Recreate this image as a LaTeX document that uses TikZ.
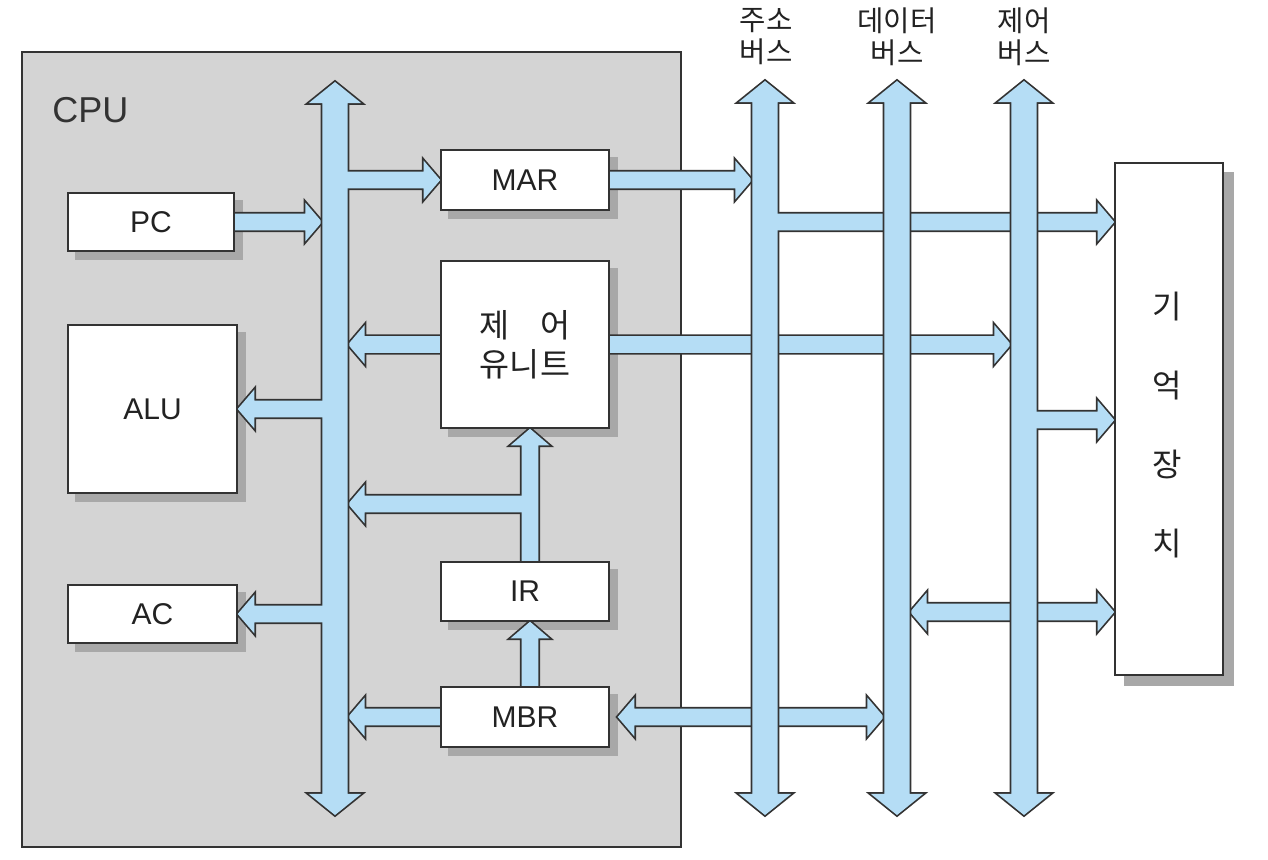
\documentclass[tikz,border=0pt]{standalone}
\usepackage{fontspec}
\setmainfont{Liberation Sans}
\newfontfamily\kr{Noto Sans CJK KR}
\usetikzlibrary{calc}
\pgfdeclarelayer{bg}\pgfdeclarelayer{shad}\pgfdeclarelayer{arr}
\pgfsetlayers{bg,shad,arr,main}
\definecolor{busblue}{HTML}{B5DDF5}
\definecolor{cpugray}{HTML}{D4D4D4}
\definecolor{shadgray}{HTML}{A8A8A8}
\definecolor{lc}{HTML}{333333}
\definecolor{tc}{HTML}{222222}
\def\as{6.3pt}\def\aH{14.6pt}\def\ah{12.5pt}
\def\bs{9.4pt}\def\bH{19.6pt}\def\bh{15.8pt}
\newcommand\RA[2]{\path[cur] let \p1=#1, \p2=#2 in (\x1,\y1+\as) -- (\x2-\ah,\y1+\as) -- (\x2-\ah,\y1+\aH) -- (\x2,\y1) -- (\x2-\ah,\y1-\aH) -- (\x2-\ah,\y1-\as) -- (\x1,\y1-\as) -- cycle;}
\newcommand\LA[2]{\path[cur] let \p1=#1, \p2=#2 in (\x1,\y1+\as) -- (\x2+\ah,\y1+\as) -- (\x2+\ah,\y1+\aH) -- (\x2,\y1) -- (\x2+\ah,\y1-\aH) -- (\x2+\ah,\y1-\as) -- (\x1,\y1-\as) -- cycle;}
\newcommand\UA[2]{\path[cur] let \p1=#1, \p2=#2 in (\x1-\as,\y1) -- (\x1-\as,\y2-\ah) -- (\x1-\aH,\y2-\ah) -- (\x1,\y2) -- (\x1+\aH,\y2-\ah) -- (\x1+\as,\y2-\ah) -- (\x1+\as,\y1) -- cycle;}
\newcommand\DA[2]{\path[cur] let \p1=#1, \p2=#2 in (\x1,\y1) -- (\x1+\ah,\y1+\aH) -- (\x1+\ah,\y1+\as) -- (\x2-\ah,\y1+\as) -- (\x2-\ah,\y1+\aH) -- (\x2,\y1) -- (\x2-\ah,\y1-\aH) -- (\x2-\ah,\y1-\as) -- (\x1+\ah,\y1-\as) -- (\x1+\ah,\y1-\aH) -- cycle;}
\newcommand\BUS[2]{\path[cur] let \p1=#1, \p2=#2 in (\x1,\y1) -- (\x1+\bH,\y1-\bh) -- (\x1+\bs,\y1-\bh) -- (\x1+\bs,\y2+\bh) -- (\x1+\bH,\y2+\bh) -- (\x1,\y2) -- (\x1-\bH,\y2+\bh) -- (\x1-\bs,\y2+\bh) -- (\x1-\bs,\y1-\bh) -- (\x1-\bH,\y1-\bh) -- cycle;}
\newcommand\grp[1]{\tikzset{cur/.style={outl}}#1\tikzset{cur/.style={infill}}#1}
\begin{document}
\begin{tikzpicture}[x=0.75pt,y=-0.75pt,
  cur/.style={},
  outl/.style={draw=lc,line width=2.6pt,line join=miter},
  infill/.style={fill=busblue},
  box/.style={draw=lc,line width=1.1pt,fill=white,inner sep=0pt,text=tc},
  lat/.style={font=\fontsize{22.5}{27}\selectfont},
  krl/.style={font=\kr\fontsize{21.5}{24}\selectfont,align=center,text=tc}]
\useasboundingbox (0,0) rectangle (1268,860);
% boxes
\node[box,lat,minimum width=124.5pt,minimum height=43.5pt] (PC) at (151,222) {PC};
\node[box,lat,minimum width=126.75pt,minimum height=126pt] (ALU) at (152.5,409) {ALU};
\node[box,lat,minimum width=126.75pt,minimum height=43.5pt] (AC) at (152.5,614) {AC};
\node[box,lat,minimum width=126pt,minimum height=45pt] (MAR) at (525,180) {MAR};
\node[box,minimum width=126pt,minimum height=125.25pt,align=center,font=\kr\fontsize{24.5}{29}\selectfont] (CU) at (525,344.5) {제\hspace{0.95em}어\\유니트};
\node[box,lat,minimum width=126pt,minimum height=44.25pt] (IR) at (525,591.5) {IR};
\node[box,lat,minimum width=126pt,minimum height=45pt] (MBR) at (525,717) {MBR};
\node[box,minimum width=81pt,minimum height=384pt] (mem) at (1169,419) {};
\node[font=\kr\fontsize{24}{59.25}\selectfont,align=center,text=tc] (memtxt) at (1167,425) {기\\억\\장\\치};
\node[anchor=west,inner sep=0pt,font=\fontsize{27}{32}\selectfont,text=lc] (cpulbl) at (52,110) {CPU};
\node[krl] (labA) at (766,37) {주소\\버스};
\node[krl] (labD) at (897,37) {데이터\\버스};
\node[krl] (labC) at (1024,37) {제어\\버스};
% coordinates
\coordinate (mbT) at (335,82); \coordinate (mbB) at (335,815);
\coordinate (abT) at (765,81); \coordinate (abB) at (765,815);
\coordinate (dbT) at (897,81); \coordinate (dbB) at (897,815);
\coordinate (cbT) at (1024,81); \coordinate (cbB) at (1024,815);
\coordinate (mbW) at (322,450); \coordinate (mbE) at (348,450);
\coordinate (abW) at (752,450); \coordinate (dbW) at (884,450);
\coordinate (cbW) at (1011,450);
\coordinate (br) at (530,504); \coordinate (am) at (765,222);
\coordinate (cm) at (1024,420); \coordinate (dm) at (910,612);
\begin{pgfonlayer}{bg}
\fill[white] (0,0) rectangle (1268,860);
\node[draw=lc,line width=1.1pt,fill=cpugray,minimum width=494.25pt,minimum height=596.25pt,inner sep=0pt] (cpu) at (351.5,449.5) {};
\end{pgfonlayer}
\begin{pgfonlayer}{shad}
\foreach \n in {PC,ALU,AC,MAR,CU,IR,MBR}
  \fill[shadgray] ([shift={(6pt,-6pt)}]\n.south west) rectangle ([shift={(6pt,-6pt)}]\n.north east);
\fill[shadgray] ([shift={(7.5pt,-7.5pt)}]mem.south west) rectangle ([shift={(7.5pt,-7.5pt)}]mem.north east);
\end{pgfonlayer}
\begin{pgfonlayer}{arr}
\grp{\RA{(PC.east)}{(mbW)}\RA{(MAR.east)}{(abW)}\LA{(CU.west)}{(mbE)}\RA{(CU.east)}{(cbW)}\LA{(MBR.west)}{(mbE)}\DA{([xshift=6pt]MBR.east)}{(dbW)}\DA{(dm)}{(mem.west)}\UA{([xshift=3.75pt]MBR.north)}{(IR.south)}}
\grp{\UA{([xshift=3.75pt]IR.north)}{(CU.south)}\LA{(br)}{(mbE)}}
\grp{\BUS{(mbT)}{(mbB)}\RA{(mbT |- MAR.west)}{(MAR.west)}\LA{(mbT |- ALU.east)}{(ALU.east)}\LA{(mbT |- AC.east)}{(AC.east)}}
\grp{\BUS{(abT)}{(abB)}\RA{(am)}{(mem.west)}}
\grp{\BUS{(dbT)}{(dbB)}}
\grp{\BUS{(cbT)}{(cbB)}\RA{(cm)}{(mem.west)}}
\end{pgfonlayer}
\end{tikzpicture}
\end{document}
